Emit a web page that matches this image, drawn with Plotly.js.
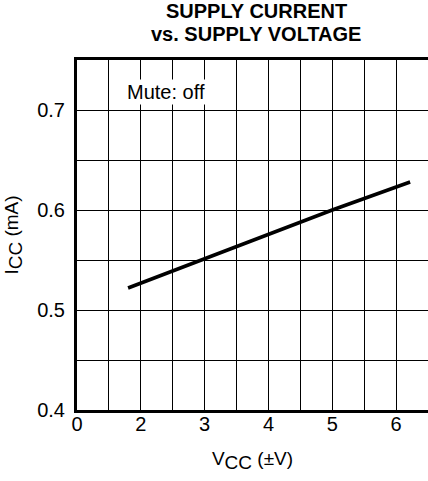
<!DOCTYPE html>
<html>
<head>
<meta charset="utf-8">
<script src="https://cdn.plot.ly/plotly-3.0.1.min.js"></script>
<style>html,body{margin:0;padding:0;background:#fff;}#chart{width:428px;height:481px;}</style>
</head>
<body>
<div id="chart"></div>
<script>
// Data
const vcc = [1.8, 3, 5, 6.22];
const icc = [0.522, 0.551, 0.6, 0.628];

const xTickVals = [1, 2, 3, 4, 5, 6];
const xTickText = ["0", "2", "3", "4", "5", "6"];
const yTickVals = [0.4, 0.5, 0.6, 0.7];
const yTickText = ["0.4", "0.5", "0.6", "0.7"];
const titleLines = ["SUPPLY CURRENT", "vs. SUPPLY VOLTAGE"];

const FONT = "Liberation Sans, Arial, sans-serif";
const FS = 20;

Plotly.newPlot("chart", [{
  x: vcc, y: icc, type: "scatter", mode: "lines",
  line: {color: "#000", width: 3.5}, hoverinfo: "skip"
}], {
  width: 428, height: 481,
  margin: {l: 77, r: 0, t: 60, b: 71},
  paper_bgcolor: "#fff", plot_bgcolor: "#fff",
  font: {family: FONT, size: FS, color: "#000"},
  showlegend: false,
  xaxis: {
    range: [1, 6.5], tickmode: "array", tickvals: xTickVals, ticktext: xTickText,
    showgrid: true, gridcolor: "#000", gridwidth: 1, zeroline: false,
    minor: {tick0: 1, dtick: 0.5, showgrid: true, gridcolor: "#000", gridwidth: 1, ticks: ""},
    showline: true, linecolor: "#000", linewidth: 3, mirror: true,
    ticks: "", ticklen: 0, ticklabelstandoff: -6,
    tickfont: {family: FONT, size: FS, color: "#000"},
    title: {text: "V<sub><span style='font-size:19px'>CC</span></sub> (±V)", font: {family: FONT, size: 19, color: "#000"}, standoff: 18}
  },
  yaxis: {
    range: [0.4, 0.75], tickmode: "array", tickvals: yTickVals, ticktext: yTickText,
    showgrid: true, gridcolor: "#000", gridwidth: 1, zeroline: false,
    minor: {tick0: 0.4, dtick: 0.05, showgrid: true, gridcolor: "#000", gridwidth: 1, ticks: ""},
    showline: true, linecolor: "#000", linewidth: 3, mirror: true,
    ticks: "", ticklen: 0, ticklabelstandoff: 5,
    tickfont: {family: FONT, size: FS, color: "#000"},
    title: {text: "I<sub><span style='font-size:19px'>CC</span></sub> (mA)", font: {family: FONT, size: 19, color: "#000"}, standoff: 14}
  },
  annotations: [
    {
      x: 1.75, y: 0.718, xref: "x", yref: "y", xanchor: "left", yanchor: "middle",
      text: "Mute: off", showarrow: false, bgcolor: "#fff",
      font: {family: FONT, size: FS, color: "#000"}
    },
    {
      x: 0.51, y: 1.1386, xref: "paper", yref: "paper", xanchor: "center", yanchor: "middle",
      text: "<b>" + titleLines[0] + "</b>", showarrow: false, borderpad: 0,
      font: {family: FONT, size: 20, color: "#000"}
    },
    {
      x: 0.51, y: 1.0743, xref: "paper", yref: "paper", xanchor: "center", yanchor: "middle",
      text: "<b>" + titleLines[1] + "</b>", showarrow: false, borderpad: 0,
      font: {family: FONT, size: 20, color: "#000"}
    }
  ]
}, {displayModeBar: false, staticPlot: true});
</script>
</body>
</html>
